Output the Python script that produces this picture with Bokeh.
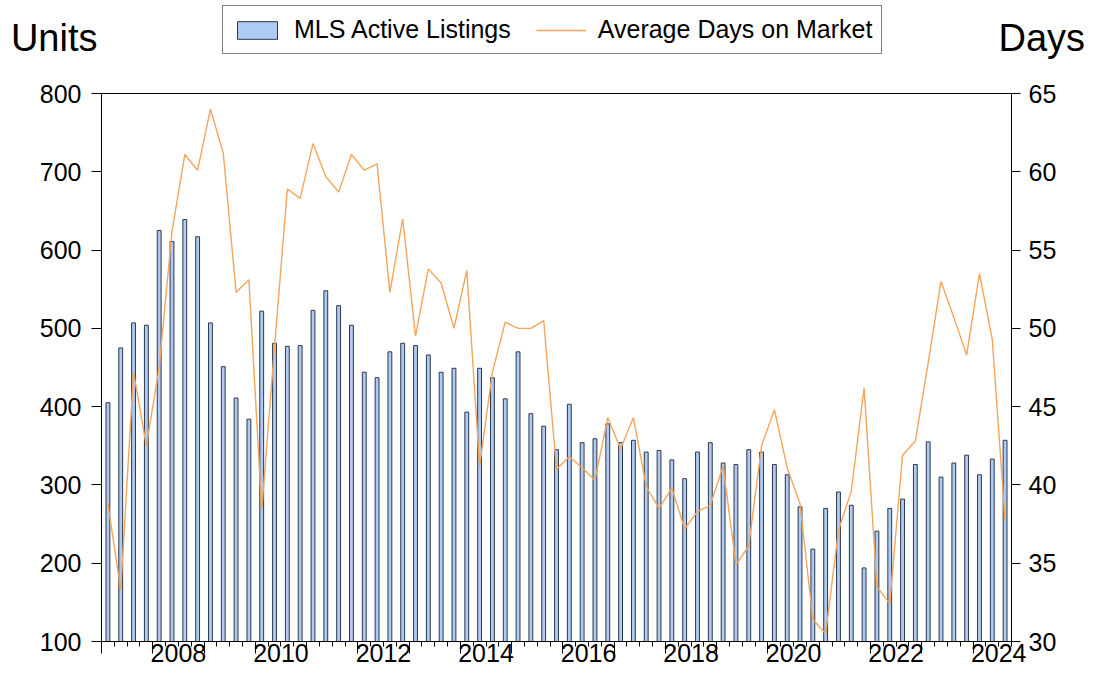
from bokeh.plotting import figure
from bokeh.models import (Range1d, LinearAxis, FixedTicker, Legend, LegendItem, Span)
from bokeh.embed import file_html
from bokeh.resources import INLINE

# ---- data (quarterly, 2007Q1 .. 2024Q3) ----
quarters = [f"{2007 + i // 4}Q{i % 4 + 1}" for i in range(71)]
active_listings = [405, 475, 507, 504, 625, 611, 639, 617, 507, 451,
                   411, 384, 522, 481, 477, 478, 523, 548, 529, 504,
                   444, 437, 470, 481, 478, 466, 444, 449, 393, 449,
                   437, 410, 470, 391, 375, 345, 403, 354, 359, 378,
                   354, 357, 342, 344, 332, 308, 342, 354, 328, 326,
                   345, 342, 326, 313, 272, 218, 270, 291, 274, 194,
                   241, 270, 282, 326, 355, 310, 328, 338, 313, 333, 357]
avg_days = [38.8, 33.3, 47.2, 42.5, 47.5, 56.2, 61.1, 60.1, 64.0, 61.2,
            52.3, 53.1, 38.4, 48.8, 58.9, 58.3, 61.8, 59.7, 58.7, 61.1,
            60.1, 60.5, 52.3, 57.0, 49.5, 53.8, 52.9, 50.0, 53.7, 41.2,
            47.2, 50.4, 50.0, 50.0, 50.5, 41.0, 41.8, 41.1, 40.3, 44.3,
            42.3, 44.3, 39.9, 38.5, 39.8, 37.2, 38.3, 38.7, 41.2, 34.9,
            36.1, 42.5, 44.8, 41.1, 38.8, 31.4, 30.5, 37.1, 39.6, 46.2,
            33.5, 32.4, 41.9, 42.8, 47.8, 53.0, 50.7, 48.3, 53.5, 49.3, 37.7]
year_labels = ["2008", "2010", "2012", "2014", "2016", "2018", "2020", "2022", "2024"]
units_ticks = [100, 200, 300, 400, 500, 600, 700, 800]
days_ticks = [30, 35, 40, 45, 50, 55, 60, 65]

# quarter centres on a decimal-year axis
xq = [int(q[:4]) + (int(q[-1]) - 0.5) / 4 for q in quarters]

FONT = "Liberation Sans"
TICK_SIZE = "25px"

# The frame is extended upward (head room above 800 / 65) so that the legend
# and the unit titles can sit in the top band; axes are bounded to the data scale.
FRAME_TOP_PAD = 88          # px between the frame top and the 800 / 65 line
PLOT_H = 548                # px of the 100..800 / 30..65 scale
u_lo, u_hi = units_ticks[0], units_ticks[-1]
d_lo, d_hi = days_ticks[0], days_ticks[-1]
u_top = u_hi + (u_hi - u_lo) * FRAME_TOP_PAD / PLOT_H
d_top = d_hi + (d_hi - d_lo) * FRAME_TOP_PAD / PLOT_H
TITLE_PX = 56               # title centre, px above the 800 / 65 line
u_title = u_hi + (u_hi - u_lo) * TITLE_PX / PLOT_H
d_title = d_hi + (d_hi - d_lo) * TITLE_PX / PLOT_H

p = figure(width=1088, height=672, output_backend="svg", toolbar_location=None,
           x_range=Range1d(2007, 2024.75), y_range=Range1d(u_lo, u_top),
           min_border_left=101, min_border_right=73, min_border_top=5, min_border_bottom=31)
p.extra_y_ranges = {"days": Range1d(d_lo, d_top)}
p.background_fill_color = "white"
p.border_fill_color = "white"
p.outline_line_color = None
p.xgrid.grid_line_color = None
p.ygrid.grid_line_color = None

bars = p.vbar(x=xq, top=active_listings, bottom=u_lo, width=0.075,
              fill_color="#aecbf6", line_color="#2f3646", line_width=1)
line = p.line(x=xq, y=avg_days, y_range_name="days",
              line_color="#f4a55b", line_width=1.4)

# top border of the plotting box
p.add_layout(Span(location=u_hi, dimension="width", line_color="black", line_width=1))

# left axis
ya = p.yaxis[0]
ya.ticker = FixedTicker(ticks=units_ticks)
ya.bounds = (u_lo, u_hi)
ya.axis_line_color = "black"
ya.major_tick_out = 10
ya.major_tick_in = 0
ya.minor_tick_line_color = None
ya.major_label_standoff = 10
ya.major_label_text_font = FONT
ya.major_label_text_font_size = TICK_SIZE
ya.major_label_text_color = "black"

# right axis
ra = LinearAxis(y_range_name="days", ticker=FixedTicker(ticks=days_ticks), bounds=(d_lo, d_hi),
                major_tick_out=9, major_tick_in=0, minor_tick_line_color=None,
                major_label_standoff=8, major_label_text_font=FONT,
                major_label_text_font_size=TICK_SIZE, major_label_text_color="black",
                axis_line_color="black")
p.add_layout(ra, "right")

# "Units" / "Days" titles (tick labels of label-only axes)
units_title = LinearAxis(ticker=FixedTicker(ticks=[u_title]),
                         major_label_overrides={u_title: "Units"},
                         major_label_standoff=-61, major_label_text_font=FONT,
                         major_label_text_font_size="38px", major_label_text_color="black",
                         axis_line_color=None, major_tick_line_color=None,
                         minor_tick_line_color=None, major_tick_out=0, major_tick_in=0,
                         minor_tick_out=0)
p.add_layout(units_title, "left")
days_title = LinearAxis(y_range_name="days", ticker=FixedTicker(ticks=[d_title]),
                        major_label_overrides={d_title: "Days"},
                        major_label_standoff=-61, major_label_text_font=FONT,
                        major_label_text_font_size="38px", major_label_text_color="black",
                        axis_line_color=None, major_tick_line_color=None,
                        minor_tick_line_color=None, major_tick_out=0, major_tick_in=0,
                        minor_tick_out=0)
p.add_layout(days_title, "right")

# bottom axis: year ticks (long) and quarter ticks (short), no labels
years = list(range(2007, 2025))
minor = [y + f for y in years for f in (0.25, 0.5, 0.75)]
xa = p.xaxis[0]
xa.ticker = FixedTicker(ticks=years, minor_ticks=minor)
xa.axis_line_color = "black"
xa.major_tick_out = 12
xa.major_tick_in = 0
xa.minor_tick_out = 5
xa.minor_tick_in = 0
xa.major_label_overrides = {y: "" for y in years}
xa.major_label_text_font_size = "1px"
xa.major_label_standoff = 0

# bottom axis: labels centred on the year
label_pos = [int(s) + 0.5 for s in year_labels]
la = LinearAxis(ticker=FixedTicker(ticks=label_pos),
                major_label_overrides={pos: s for pos, s in zip(label_pos, year_labels)},
                axis_line_color=None, major_tick_line_color=None, minor_tick_line_color=None,
                major_tick_out=0, major_tick_in=0, major_label_standoff=-10,
                major_label_text_font=FONT, major_label_text_font_size=TICK_SIZE,
                major_label_text_color="black")
p.add_layout(la, "below")

# legend in the head room of the frame
legend = Legend(items=[LegendItem(label="MLS Active Listings", renderers=[bars]),
                       LegendItem(label="Average Days on Market", renderers=[line])],
                orientation="horizontal", location=(121, 587),
                label_text_font=FONT, label_text_font_size="25px", label_text_color="black",
                glyph_width=50, glyph_height=22, label_height=22, label_standoff=12, spacing=25,
                padding=9, margin=0, border_line_color="black", border_line_width=1,
                background_fill_color="white", background_fill_alpha=1.0)
p.add_layout(legend, "center")

open("out.html", "w").write(file_html(p, INLINE))
